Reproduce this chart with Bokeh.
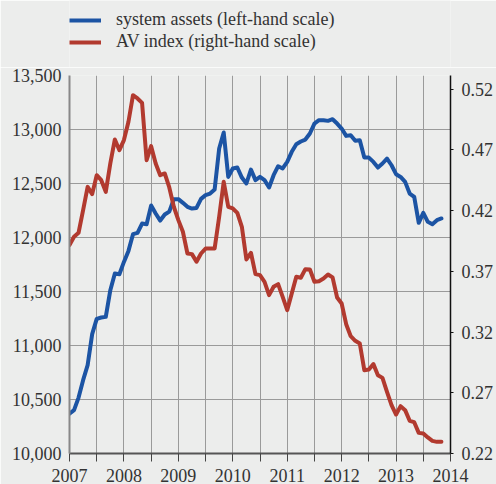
from bokeh.plotting import figure
from bokeh.layouts import column
from bokeh.models import (Range1d, LinearAxis, FixedTicker, NumeralTickFormatter,
                          PrintfTickFormatter, Legend, LegendItem)
from bokeh.embed import file_html
from bokeh.resources import INLINE

# monthly data, Jan 2007 .. Nov 2013
start_year = 2007
system_assets = [
    10370, 10401, 10518, 10679, 10818, 11105, 11247, 11259, 11265, 11512, 11667, 11660,
    11774, 11876, 12031, 12043, 12129, 12123, 12296, 12222, 12157, 12213, 12240, 12355,
    12355, 12321, 12284, 12268, 12274, 12358, 12392, 12407, 12444, 12824, 12972, 12561,
    12639, 12648, 12555, 12500, 12629, 12531, 12561, 12531, 12463, 12577, 12660, 12639,
    12700, 12793, 12864, 12889, 12907, 12963, 13055, 13086, 13086, 13080, 13095, 13055,
    13009, 12941, 12947, 12895, 12901, 12740, 12740, 12700, 12648, 12685, 12731, 12669,
    12586, 12561, 12515, 12407, 12376, 12136, 12228, 12145, 12123, 12160, 12176,
]
av_index = [
    0.3916, 0.3985, 0.4018, 0.4204, 0.4396, 0.4336, 0.4492, 0.4451, 0.4355, 0.4589, 0.4786, 0.4698,
    0.4781, 0.4932, 0.5151, 0.5124, 0.5088, 0.4616, 0.4731, 0.4589, 0.4492, 0.4506, 0.4391, 0.4232,
    0.4122, 0.4026, 0.3847, 0.3842, 0.3779, 0.3847, 0.3888, 0.3888, 0.3888, 0.4149, 0.4438, 0.4232,
    0.4218, 0.4182, 0.4067, 0.3798, 0.3853, 0.3677, 0.3669, 0.3614, 0.3504, 0.3573, 0.3595, 0.3490,
    0.3380, 0.3518, 0.3655, 0.3647, 0.3718, 0.3715, 0.3614, 0.3619, 0.3641, 0.3674, 0.3650, 0.3485,
    0.3435, 0.3265, 0.3166, 0.3128, 0.3106, 0.2886, 0.2892, 0.2936, 0.2845, 0.2823, 0.2708, 0.2598,
    0.2521, 0.2590, 0.2557, 0.2469, 0.2458, 0.2370, 0.2365, 0.2332, 0.2304, 0.2296, 0.2296,
]
year_ticks = [2007, 2008, 2009, 2010, 2011, 2012, 2013, 2014]
half_year_ticks = [2007.5, 2008.5, 2009.5, 2010.5, 2011.5, 2012.5, 2013.5]
left_ticks = [10000, 10500, 11000, 11500, 12000, 12500, 13000, 13500]
right_ticks = [0.22, 0.27, 0.32, 0.37, 0.42, 0.47, 0.52]
labels = ["system assets (left-hand scale)", "AV index (right-hand scale)"]

x = [start_year + i / 12 for i in range(len(system_assets))]

BG = "#ecedec"
FONT = "Liberation Serif"
TXT = "#333333"
BLUE = "#1c54a4"
RED = "#b23a2f"

# ---- legend strip (top) ----
lg = figure(width=496, height=67, output_backend="svg", toolbar_location=None,
            x_axis_location=None, y_axis_location=None,
            x_range=Range1d(0, 1), y_range=Range1d(0, 1),
            min_border=0, min_border_left=0, min_border_right=0,
            min_border_top=0, min_border_bottom=0)
lg.background_fill_color = BG
lg.border_fill_color = BG
lg.outline_line_color = None
lg.grid.visible = False
# single-point (invisible, out of range) stand-ins that carry the legend line styles
k_blue = lg.line(x[:1], system_assets[:1], line_color=BLUE, line_width=4)
k_red = lg.line(x[:1], av_index[:1], line_color=RED, line_width=4)
legend = Legend(items=[LegendItem(label=labels[0], renderers=[k_blue]),
                       LegendItem(label=labels[1], renderers=[k_red])],
                location=(0, 15), orientation="vertical",
                background_fill_alpha=0, border_line_color=None,
                padding=0, margin=0, spacing=1,
                glyph_width=32, glyph_height=18, label_height=18,
                label_standoff=15, label_text_font=FONT,
                label_text_font_size="18px", label_text_color=TXT)
lg.add_layout(legend, "center")

# ---- main chart ----
p = figure(width=496, height=417, output_backend="svg", toolbar_location=None,
           x_range=Range1d(2007, 2014), y_range=Range1d(10000, 13500),
           min_border_left=69, min_border_right=45, min_border_top=8, min_border_bottom=31)
p.background_fill_color = BG
p.border_fill_color = BG
p.outline_line_color = None

p.extra_y_ranges = {"av": Range1d(0.22, 0.5313)}

# grids
p.xgrid.ticker = FixedTicker(ticks=year_ticks, minor_ticks=half_year_ticks)
p.xgrid.grid_line_color = "#9a9a9a"
p.xgrid.grid_line_width = 1
p.xgrid.minor_grid_line_color = "#9a9a9a"
p.xgrid.minor_grid_line_width = 1
p.ygrid.ticker = FixedTicker(ticks=left_ticks)
p.ygrid.grid_line_color = "#9a9a9a"
p.ygrid.grid_line_width = 1

# bottom axis
xa = p.xaxis[0]
xa.ticker = FixedTicker(ticks=year_ticks, minor_ticks=half_year_ticks)
xa.formatter = PrintfTickFormatter(format="%d")
xa.axis_line_color = "#555555"
xa.axis_line_width = 2
xa.major_tick_line_color = "#444444"
xa.minor_tick_line_color = "#444444"
xa.major_tick_out = 8
xa.major_tick_in = 0
xa.minor_tick_out = 8
xa.minor_tick_in = 0
xa.major_label_standoff = 7
xa.axis_label_standoff = 0

# left axis
ya = p.yaxis[0]
ya.ticker = FixedTicker(ticks=left_ticks)
ya.formatter = NumeralTickFormatter(format="0,0")
ya.axis_line_color = "#888888"
ya.axis_line_width = 2
ya.major_tick_out = 0
ya.major_tick_in = 0
ya.minor_tick_line_color = None
ya.major_label_standoff = 8

# right axis
ra = LinearAxis(y_range_name="av", ticker=FixedTicker(ticks=right_ticks),
                formatter=PrintfTickFormatter(format="%.2f"))
ra.axis_line_color = "#111111"
ra.axis_line_width = 1.5
ra.major_tick_line_color = "#111111"
ra.major_tick_out = 3
ra.major_tick_in = 0
ra.minor_tick_line_color = None
ra.major_label_standoff = 8
p.add_layout(ra, "right")

for ax in (xa, ya, ra):
    ax.major_label_text_font = FONT
    ax.major_label_text_font_size = "18px"
    ax.major_label_text_color = TXT

p.line(x, system_assets, line_color=BLUE, line_width=4, line_join="round", line_cap="round")
p.line(x, av_index, y_range_name="av", line_color=RED, line_width=4,
       line_join="round", line_cap="round")

layout = column(lg, p, spacing=0)
open("out.html", "w").write(file_html(layout, INLINE))
